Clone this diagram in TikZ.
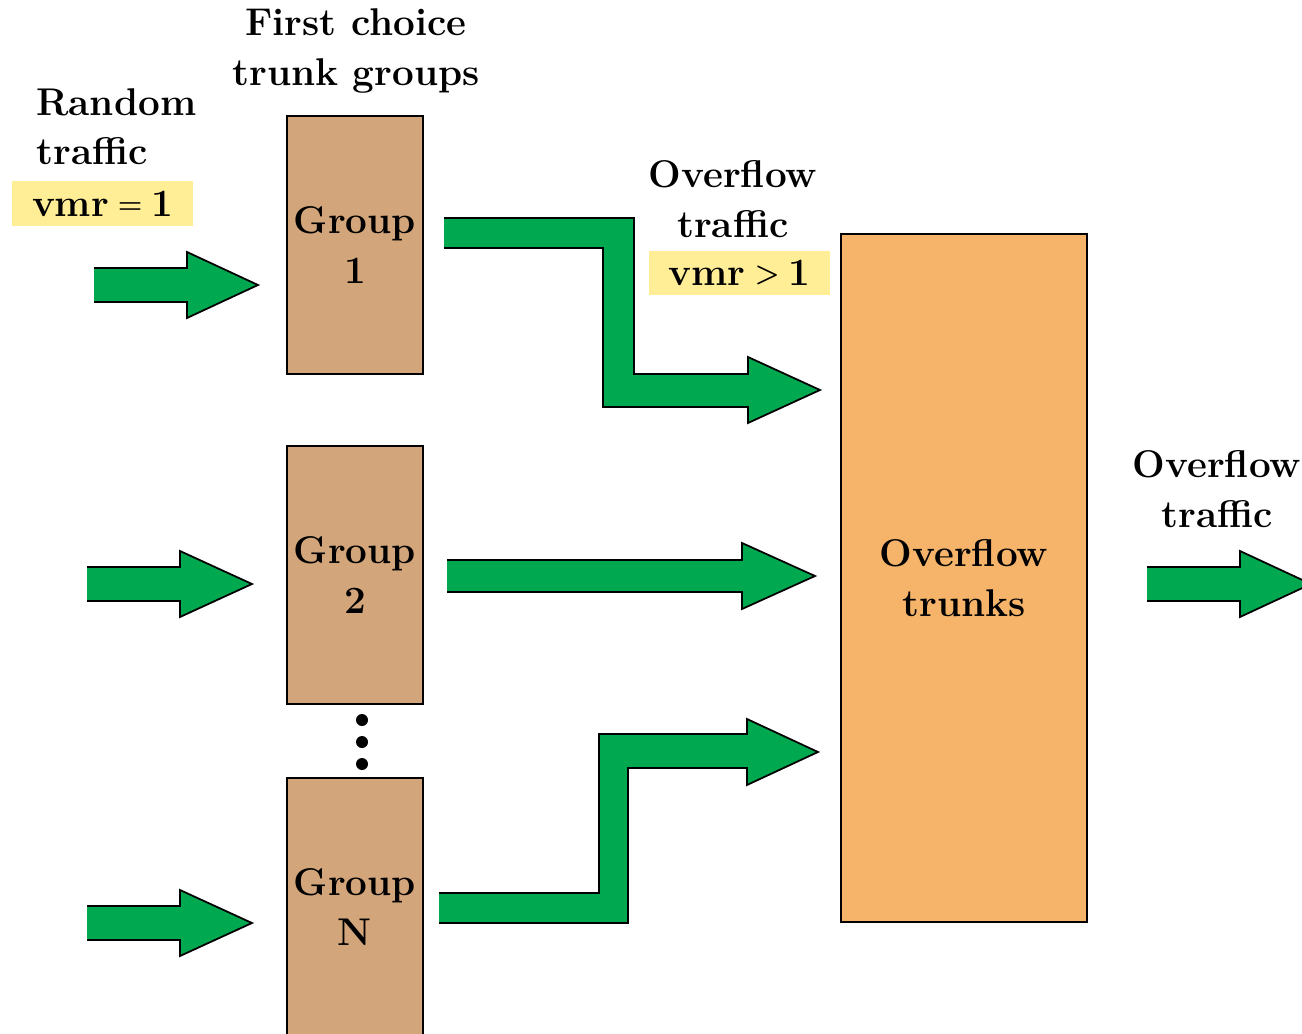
\documentclass[tikz,border=0pt]{standalone}
\usepackage{tikz, xcolor}

\definecolor{arrowgreen}{RGB}{0,168,80}
\definecolor{groupbrown}{RGB}{211,165,122}
\definecolor{trunkorange}{RGB}{245,180,106}
\definecolor{vmryellow}{RGB}{255,238,150}

\tikzset{
  lbl/.style={font=\fontsize{22}{28}\selectfont\bfseries, align=center, inner sep=0pt},
  grp/.style={lbl, draw, fill=groupbrown, line width=1pt, minimum width=2.72cm, minimum height=5.16cm},
  vmrbox/.style={lbl, fill=vmryellow, minimum width=3.62cm, minimum height=0.9cm},
}

% smaller relation sign for the vmr labels
\newcommand{\relsign}[1]{\hspace{5pt}\raisebox{1.5pt}{\fontsize{16}{20}\selectfont #1}\hspace{5pt}}

% fat arrow: start x, head x, tip x, middle y
\newcommand{\fatarrow}[4]{
  \fill[arrowgreen] (#1,#4-17) -- (#2,#4-17) -- (#2,#4-33) -- (#3,#4) -- (#2,#4+33) -- (#2,#4+17) -- (#1,#4+17) -- cycle;
  \draw[line width=1pt] (#1,#4-17) -- (#2,#4-17) -- (#2,#4-33) -- (#3,#4) -- (#2,#4+33) -- (#2,#4+17) -- (#1,#4+17);
}

\begin{document}
\begin{tikzpicture}[x=0.02cm, y=-0.02cm]
    \useasboundingbox (0,0) rectangle (1302,1034);

    % trunk groups
    \node [grp] (g1) at (355,245) {Group\\1};
    \node [grp] (g2) at (355,575) {Group\\2};
    \node [grp] (gn) at (355,907) {Group\\N};
    \node [lbl, draw, fill=trunkorange, line width=1pt, minimum width=4.92cm, minimum height=13.76cm] (ovf) at (964,578) {Overflow\\trunks};

    \foreach \y in {720, 742, 764}
      \fill (362,\y) circle (6);

    % labels
    \node [lbl] (first) at (356,51) {First choice\\trunk groups};
    \node [lbl, align=left, anchor=west] (rand) at (36,127) {Random\\traffic};
    \node [vmrbox] (vmr1) at (102.5,203.5) {vmr\relsign{=}1};
    \node [lbl] (ovtr) at (733,199) {Overflow\\traffic};
    \node [vmrbox] (vmr2) at (739.5,273) {vmr\relsign{>}1};
    \node [lbl] (outtr) at (1217,489) {Overflow\\traffic};

    % incoming and outgoing arrows
    \fatarrow{94}{187}{258}{285}
    \foreach \y in {584, 923}
    {
      \fatarrow{87}{180}{252}{\y}
    }
    \fatarrow{1147}{1240}{1311}{584}

    % overflow arrows
    \fill [arrowgreen] (447,560) -- (742,560) -- (742,543) -- (815,576) -- (742,609) -- (742,592) -- (447,592) -- cycle;
    \draw [line width=1pt] (447,560) -- (742,560) -- (742,543) -- (815,576) -- (742,609) -- (742,592) -- (447,592);

    \fill [arrowgreen] (444,218) -- (634,218) -- (634,374) -- (748,374) -- (748,357) -- (820,390) -- (748,423) -- (748,407) -- (603,407) -- (603,248) -- (444,248) -- cycle;
    \draw [line width=1pt] (444,218) -- (634,218) -- (634,374) -- (748,374) -- (748,357) -- (820,390) -- (748,423) -- (748,407) -- (603,407) -- (603,248) -- (444,248);

    \fill [arrowgreen] (439,893) -- (599,893) -- (599,734) -- (747,734) -- (747,719) -- (818,752) -- (747,785) -- (747,768) -- (628,768) -- (628,923) -- (439,923) -- cycle;
    \draw [line width=1pt] (439,893) -- (599,893) -- (599,734) -- (747,734) -- (747,719) -- (818,752) -- (747,785) -- (747,768) -- (628,768) -- (628,923) -- (439,923);

  \end{tikzpicture}
\end{document}
